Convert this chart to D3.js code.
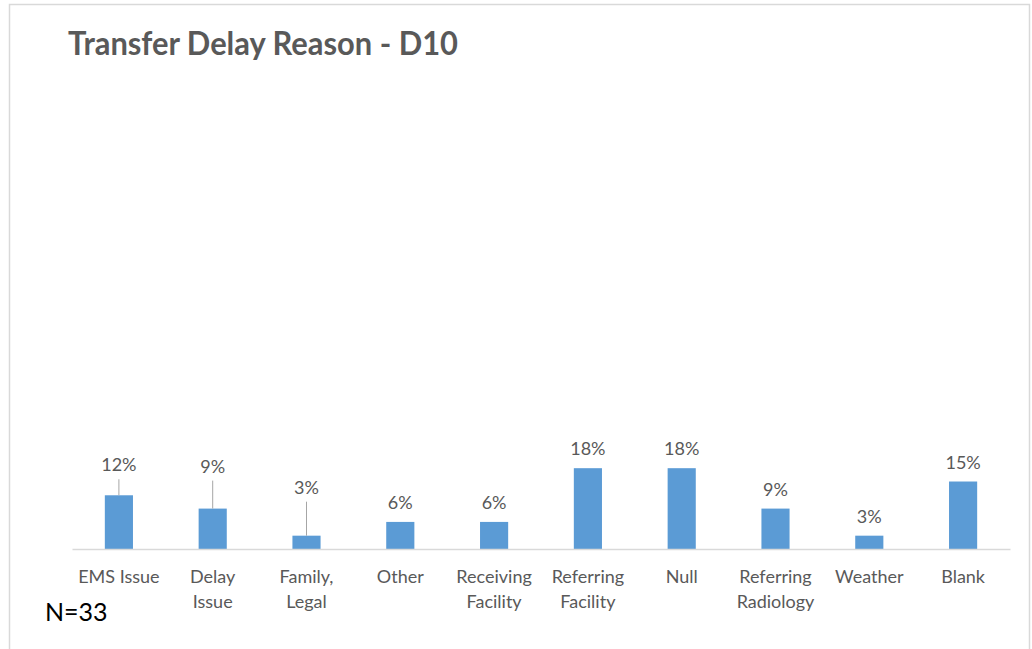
<!DOCTYPE html>
<html><head><meta charset="utf-8">
<script src="https://cdn.jsdelivr.net/npm/d3@7"></script>
<style>html,body{margin:0;padding:0;background:#fff;} svg{display:block;}</style>
</head><body>
<script>
const categories = [["EMS Issue"],["Delay","Issue"],["Family,","Legal"],["Other"],["Receiving","Facility"],["Referring","Facility"],["Null"],["Referring","Radiology"],["Weather"],["Blank"]];
const values = [12.1, 9.1, 3.0, 6.1, 6.1, 18.2, 18.2, 9.1, 3.0, 15.2];
const labelLift = [11, 23, 29, 0, 0, 0, 0, 0, 0, 0];
const titleText = "Transfer Delay Reason - D10";
const noteText = "N=33";

const W = 1032, H = 649;
const svg = d3.select("body").append("svg").attr("width", W).attr("height", H);
const font = "Lato, 'Open Sans', sans-serif";
const grey = "#595959";

svg.append("rect").attr("x", 9.5).attr("y", 4.5).attr("width", 1020).attr("height", 660)
  .attr("fill", "#fff").attr("stroke", "#d9d9d9").attr("stroke-width", 1.5);

const x = d3.scaleBand().domain(d3.range(categories.length)).range([72, 1010]).paddingInner(0.7).paddingOuter(0.35);
const y = d3.scaleLinear().domain([0, 100]).range([549, 105]);

svg.append("text").attr("x", 68).attr("y", 55).text(titleText)
  .attr("font-family", font).attr("font-weight", "bold").attr("font-size", 32)
  .attr("fill", grey).attr("textLength", 390).attr("lengthAdjust", "spacingAndGlyphs");

svg.selectAll("rect.bar").data(values).join("rect").attr("class", "bar")
  .attr("x", (d, i) => x(i)).attr("width", x.bandwidth())
  .attr("y", d => y(d)).attr("height", d => y(0) - y(d)).attr("fill", "#5b9bd5");

// axis
const xAxis = d3.axisBottom(x).tickSize(0).tickFormat("");
const gx = svg.append("g").attr("transform", `translate(0,${y(0)})`).call(xAxis);
gx.select(".domain").attr("stroke", "#d9d9d9").attr("stroke-width", 1.3);

// category labels
const cl = svg.selectAll("text.cat").data(categories).join("text").attr("class", "cat")
  .attr("x", (d, i) => x(i) + x.bandwidth() / 2).attr("y", 583)
  .attr("text-anchor", "middle").attr("font-family", font).attr("font-size", 18).attr("fill", grey);
cl.selectAll("tspan").data(d => d).join("tspan")
  .attr("x", function () { return d3.select(this.parentNode).attr("x"); })
  .attr("dy", (d, i) => i === 0 ? 0 : 25).text(d => d);

// leader lines
svg.selectAll("line.leader").data(values).join("line").attr("class", "leader")
  .filter((d, i) => labelLift[i] > 0)
  .attr("x1", (d, i) => x(i) + x.bandwidth() / 2).attr("x2", (d, i) => x(i) + x.bandwidth() / 2)
  .attr("y1", (d, i) => y(d) - 13 - labelLift[i] + 8).attr("y2", d => y(d))
  .attr("stroke", "#a6a6a6").attr("stroke-width", 1);

// value labels
svg.selectAll("text.val").data(values).join("text").attr("class", "val")
  .attr("x", (d, i) => x(i) + x.bandwidth() / 2).attr("y", (d, i) => y(d) - 13 - labelLift[i])
  .attr("text-anchor", "middle").attr("font-family", font).attr("font-size", 18).attr("fill", grey)
  .text(d => Math.round(d) + "%");

svg.append("text").attr("x", 45).attr("y", 621).text(noteText)
  .attr("font-family", font).attr("font-size", 25).attr("fill", "#000");
</script>
</body></html>
